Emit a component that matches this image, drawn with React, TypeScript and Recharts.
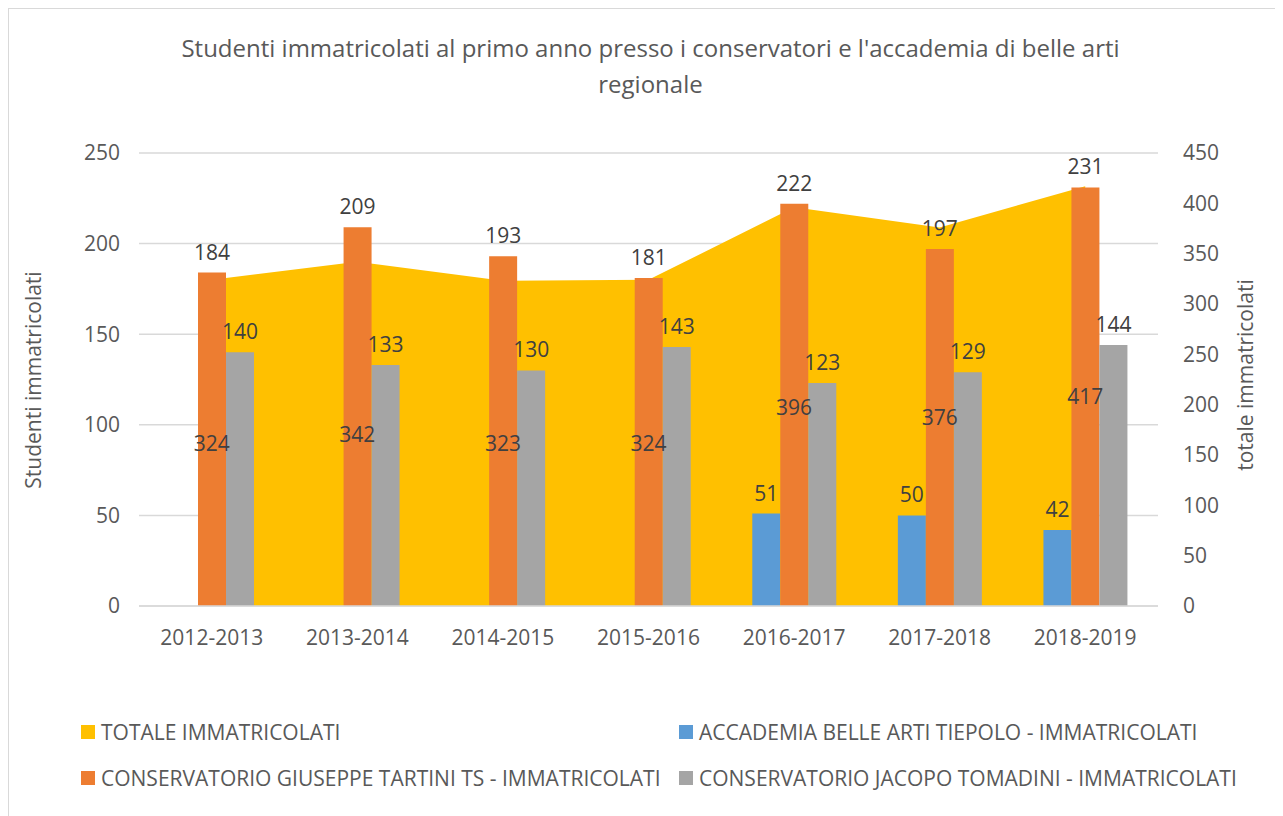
import React from 'react';
import { ComposedChart, Area, Bar, XAxis, YAxis, CartesianGrid, LabelList } from 'recharts';

const years = ['2012-2013', '2013-2014', '2014-2015', '2015-2016', '2016-2017', '2017-2018', '2018-2019'];
const totale = [324, 342, 323, 324, 396, 376, 417];
const tiepolo = [0, 0, 0, 0, 51, 50, 42];
const tartini = [184, 209, 193, 181, 222, 197, 231];
const tomadini = [140, 133, 130, 143, 123, 129, 144];

const leftTicks = [0, 50, 100, 150, 200, 250];
const rightTicks = [0, 50, 100, 150, 200, 250, 300, 350, 400, 450];

const series = [
  { key: 'totale', name: 'TOTALE IMMATRICOLATI', color: '#FFC000' },
  { key: 'tiepolo', name: 'ACCADEMIA BELLE ARTI TIEPOLO - IMMATRICOLATI', color: '#5B9BD5' },
  { key: 'tartini', name: 'CONSERVATORIO GIUSEPPE TARTINI TS - IMMATRICOLATI', color: '#ED7D31' },
  { key: 'tomadini', name: 'CONSERVATORIO JACOPO TOMADINI - IMMATRICOLATI', color: '#A5A5A5' },
];

const data = years.map((year, i) => ({
  year,
  totale: totale[i],
  tiepolo: tiepolo[i],
  tartini: tartini[i],
  tomadini: tomadini[i],
}));

const FONT = "'Open Sans', 'Noto Sans', sans-serif";
const TEXT = '#595959';
const LABEL = '#404040';
const PLOT_TOP = 144;
const PLOT_BOTTOM = 597;

// Excel centres area labels between the line and the baseline
function AreaLabel(props: any) {
  const { x, y, value } = props;
  if (x == null || y == null) return null;
  return (
    <text x={x} y={(y + PLOT_BOTTOM) / 2} textAnchor="middle" dominantBaseline="central"
      fill={LABEL} fontSize={21} fontFamily={FONT}>
      {value}
    </text>
  );
}

export default function App() {
  return (
    <div style={{ position: 'relative', width: 1275, height: 810, border: '1px solid #d9d9d9', borderRight: 'none', boxSizing: 'border-box', background: '#fff', fontFamily: FONT }}>
      <div style={{ position: 'absolute', top: 21, left: 9, width: 1265, textAlign: 'center', color: TEXT, fontSize: 24, lineHeight: '36px' }}>
        Studenti immatricolati al primo anno presso i conservatori e l'accademia di belle arti
        <br />
        regionale
      </div>
      <div style={{ position: 'absolute', left: 24, top: 371, transform: 'translate(-50%, -50%) rotate(-90deg)', whiteSpace: 'nowrap', color: TEXT, fontSize: 21 }}>
        Studenti immatricolati
      </div>
      <div style={{ position: 'absolute', left: 1236, top: 366, transform: 'translate(-50%, -50%) rotate(-90deg)', whiteSpace: 'nowrap', color: TEXT, fontSize: 21 }}>
        totale immatricolati
      </div>
      <ComposedChart
        width={1265}
        height={800}
        data={data}
        margin={{ top: PLOT_TOP, right: 0, left: 0, bottom: 163 }}
        barGap={0}
        style={{ position: 'absolute', left: 0, top: 0 }}
      >
        <CartesianGrid yAxisId="left" vertical={false} stroke="#d9d9d9" strokeWidth={1.5} />
        <XAxis dataKey="year" height={40} axisLine={{ stroke: '#d9d9d9', strokeWidth: 1.5 }} tickLine={false}
          tickMargin={18} tick={{ fill: TEXT, fontSize: 21, fontFamily: FONT }} interval={0} />
        <YAxis yAxisId="left" width={130} domain={[0, 250]} ticks={leftTicks} axisLine={false} tickLine={false}
          tickMargin={13} tick={{ fill: TEXT, fontSize: 21, fontFamily: FONT }} />
        <YAxis yAxisId="right" orientation="right" width={116} domain={[0, 450]} ticks={rightTicks} axisLine={false} tickLine={false}
          tickMargin={19} tick={{ fill: TEXT, fontSize: 21, fontFamily: FONT, textAnchor: 'start' }} />
        <Area yAxisId="right" type="linear" dataKey="totale" name={series[0].name} fill={series[0].color} fillOpacity={1} stroke="none" isAnimationActive={false}>
          <LabelList dataKey="totale" content={AreaLabel} />
        </Area>
        {series.slice(1).map((s) => (
          <Bar key={s.key} yAxisId="left" dataKey={s.key} name={s.name} fill={s.color} barSize={28} isAnimationActive={false}>
            <LabelList dataKey={s.key} position="top" offset={13} fill={LABEL} fontSize={21} fontFamily={FONT} />
          </Bar>
        ))}
      </ComposedChart>
      <div style={{ position: 'absolute', left: 72, top: 712, width: 1190, display: 'grid', gridTemplateColumns: '598px auto', rowGap: 24, color: TEXT, fontSize: 21 }}>
        {series.map((s) => (
          <div key={s.key} style={{ display: 'flex', alignItems: 'center', height: 22, whiteSpace: 'nowrap' }}>
            <span style={{ width: 14, height: 14, background: s.color, marginRight: 6, flex: 'none' }} />
            {s.name}
          </div>
        ))}
      </div>
    </div>
  );
}
